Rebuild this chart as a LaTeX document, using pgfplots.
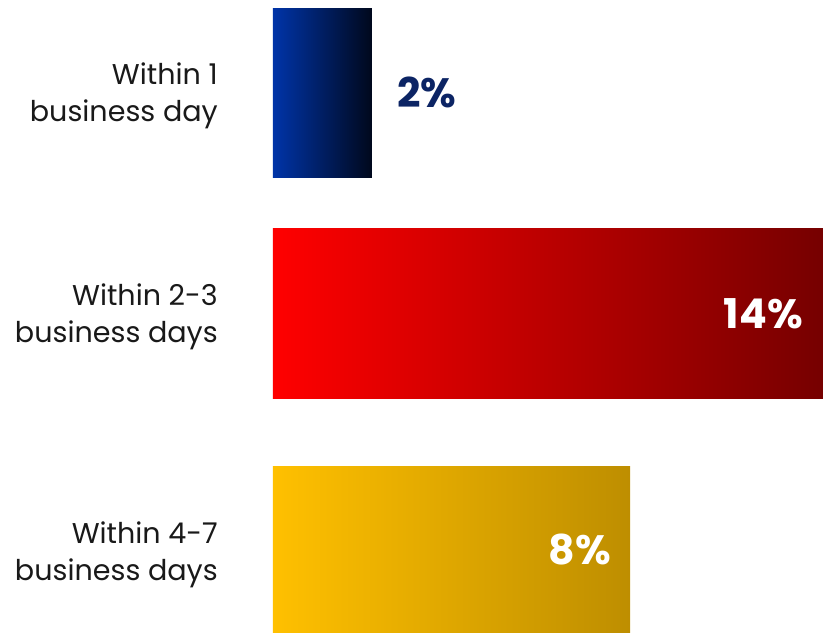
\documentclass[border=0pt]{standalone}
\usepackage{pgfplots}
\pgfplotsset{compat=1.18}
\usepackage{fontspec}
\setmainfont{Poppins}
\definecolor{b1l}{RGB}{0,52,168}
\definecolor{b1r}{RGB}{0,8,28}
\definecolor{b2l}{RGB}{255,0,0}
\definecolor{b2r}{RGB}{118,0,0}
\definecolor{b3l}{RGB}{255,192,0}
\definecolor{b3r}{RGB}{190,142,0}
\definecolor{lbl}{RGB}{12,36,100}
\begin{document}
\begin{tikzpicture}
\begin{axis}[
 scale only axis, width=550pt, height=633pt,
 xmin=0, xmax=14, ymin=0, ymax=633, y dir=reverse,
 xbar, bar width=170, bar shift=0pt,
 axis line style={draw=none}, xtick=\empty,
 ytick={93,313.5,552},
 yticklabels={{Within 1\\business day},{Within 2-3\\business days},{Within 4-7\\business days}},
 major tick length=0pt,
 y tick label style={align=right, font=\fontsize{28.6}{37}\selectfont, inner sep=0pt, xshift=-55pt, yshift=-3pt, text=black!90},
 point meta=explicit symbolic,
 nodes near coords,
]
\addplot[draw=none, left color=b1l, right color=b1r,
  every node near coord/.append style={font=\bfseries\fontsize{41}{41}\selectfont, inner sep=0pt, anchor=west, xshift=25pt, yshift=1pt, text=lbl}]
  coordinates {(2.52,93) [2\%]};
\addplot[draw=none, left color=b2l, right color=b2r,
  every node near coord/.append style={font=\bfseries\fontsize{41}{41}\selectfont, inner sep=0pt, anchor=east, xshift=-20pt, text=white}]
  coordinates {(14,313.5) [14\%]};
\addplot[draw=none, left color=b3l, right color=b3r,
  every node near coord/.append style={font=\bfseries\fontsize{41}{41}\selectfont, inner sep=0pt, anchor=east, xshift=-19pt, yshift=2pt, text=white}]
  coordinates {(9.09,552) [8\%]};
\end{axis}
\path (current axis.south west) ++(-273pt,0pt) (current axis.north east);
\end{tikzpicture}
\end{document}
